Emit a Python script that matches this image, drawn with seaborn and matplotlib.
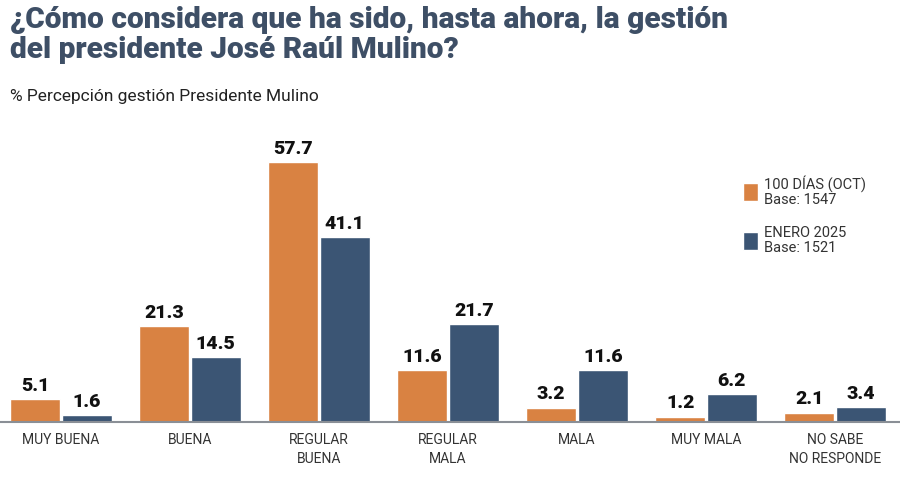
import pandas as pd
import matplotlib.pyplot as plt
import seaborn as sns

# Data
categories = ["MUY BUENA", "BUENA", "REGULAR\nBUENA", "REGULAR\nMALA", "MALA", "MUY MALA", "NO SABE\nNO RESPONDE"]
oct_values = [5.1, 21.3, 57.7, 11.6, 3.2, 1.2, 2.1]
ene_values = [1.6, 14.5, 41.1, 21.7, 11.6, 6.2, 3.4]
series_names = ["100 DÍAS (OCT)\nBase: 1547", "ENERO 2025\nBase: 1521"]

ORANGE = "#D98242"
BLUE = "#3B5574"
TITLE_COLOR = "#3E4F66"

df = pd.DataFrame({
    "categoria": categories * 2,
    "valor": oct_values + ene_values,
    "serie": [series_names[0]] * len(categories) + [series_names[1]] * len(categories),
})

sns.set_style("white")
plt.rcParams["font.family"] = ["Roboto", "DejaVu Sans"]

fig = plt.figure(figsize=(9, 5.01), dpi=100)
ax = fig.add_axes([0, 79 / 501, 1, 315 / 501])

sns.barplot(data=df, x="categoria", y="valor", hue="serie", order=categories,
            palette=[ORANGE, BLUE], width=0.8, gap=0.04, saturation=1, ax=ax)

# value labels on bars
for container in ax.containers:
    ax.bar_label(container, fmt="%.1f", padding=3, fontsize=14, fontweight="heavy", color="#111111")

ax.set_xlim(-0.473, 6.504)
ax.set_ylim(0, 70)
ax.set_xlabel("")
ax.set_ylabel("")
ax.set_yticks([])
ax.tick_params(axis="x", length=0, pad=8, labelsize=10, labelcolor="#333333")
for lbl in ax.get_xticklabels():
    lbl.set_linespacing(1.45)
for side in ["top", "right", "left"]:
    ax.spines[side].set_visible(False)
ax.spines["bottom"].set_color("#8a8f96")
ax.spines["bottom"].set_linewidth(1.5)

leg = ax.legend(loc="upper left", bbox_to_anchor=(730 / 900, 1 - 162 / 501),
                bbox_transform=fig.transFigure, frameon=False, fontsize=10.5,
                handlelength=1.0, handleheight=1.5, handletextpad=0.45, labelspacing=1.3)
for t in leg.get_texts():
    t.set_color("#333333")
    t.set_linespacing(1.1)

fig.text(10 / 900, 1 - 6 / 501, "¿Cómo considera que ha sido, hasta ahora, la gestión\ndel presidente José Raúl Mulino?",
         ha="left", va="top", fontsize=21.5, fontweight="heavy", color=TITLE_COLOR, linespacing=1.1)
fig.text(10 / 900, 1 - 96 / 501, "% Percepción gestión Presidente Mulino",
         ha="left", va="center", fontsize=12.5, color="#222222")

fig.savefig("out.png", dpi=100)
